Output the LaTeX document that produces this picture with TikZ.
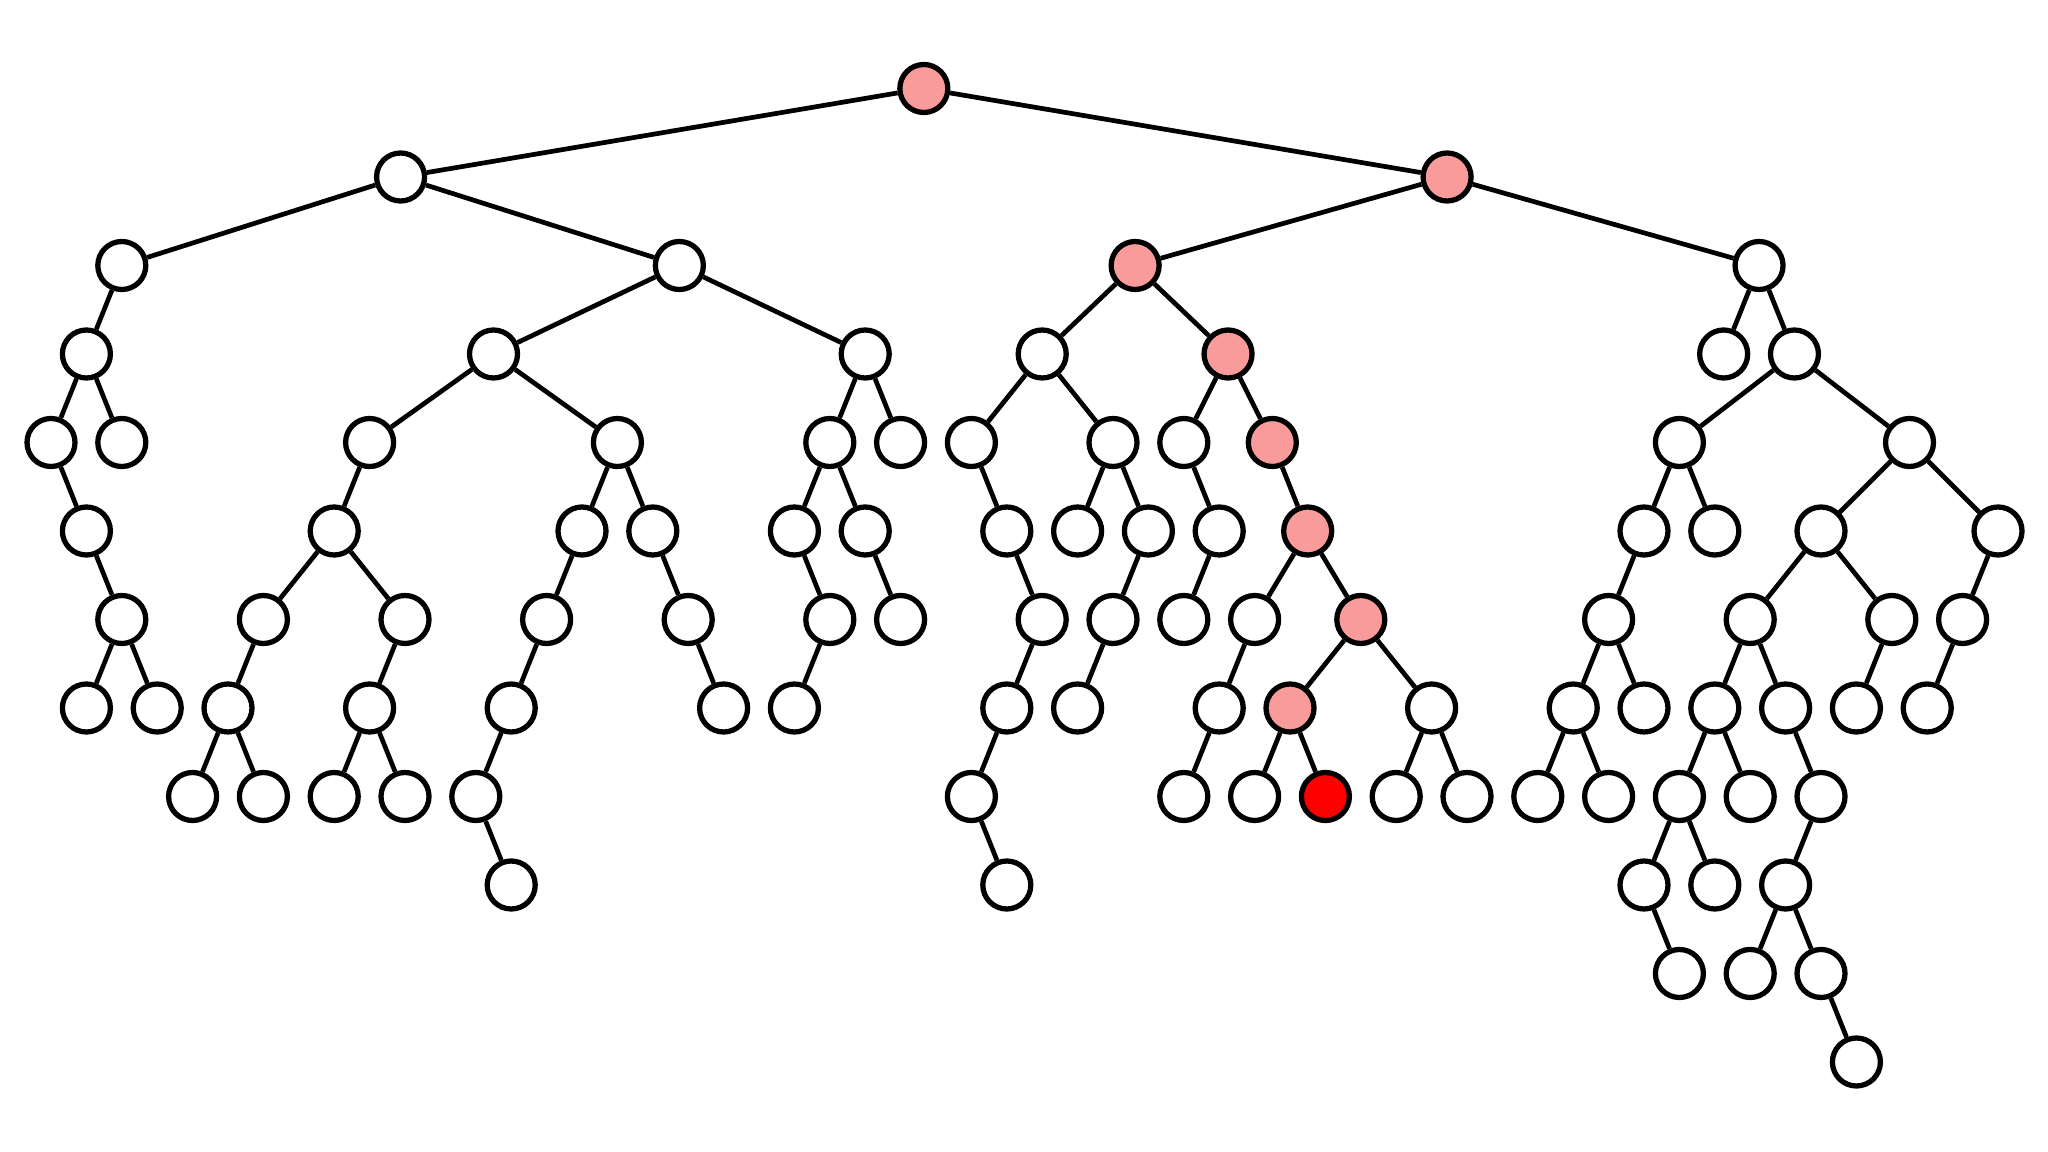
\documentclass[tikz,border=0pt]{standalone}
\definecolor{pathpink}{RGB}{250,155,155}
\definecolor{hitred}{RGB}{255,0,0}
\tikzset{
  vtx/.style={circle, draw=black, line width=1.5pt, minimum size=0.48cm, inner sep=0pt, fill=white},
  onpath/.style={fill=pathpink},
  target/.style={fill=hitred},
  link/.style={draw=black, line width=1.34pt}
}
\begin{document}
\begin{tikzpicture}[x=0.354cm, y=-0.885cm]
\useasboundingbox[fill=white] (-1.4407,-1) rectangle (56.412,12.017);
% level 0
\node[vtx,onpath] (r) at (24.656,0) {};
% level 1
\node[vtx] (a) at (9.875,1) {};
\node[vtx,onpath] (b) at (39.4375,1) {};
% level 2
\node[vtx] (c) at (2,2) {};
\node[vtx] (d) at (17.75,2) {};
\node[vtx,onpath] (e) at (30.625,2) {};
\node[vtx] (f) at (48.25,2) {};
% level 3
\node[vtx] (g) at (1,3) {};
\node[vtx] (h) at (12.5,3) {};
\node[vtx] (i) at (23,3) {};
\node[vtx] (j) at (28,3) {};
\node[vtx,onpath] (k) at (33.25,3) {};
\node[vtx] (l) at (47.25,3) {};
\node[vtx] (m) at (49.25,3) {};
% level 4
\node[vtx] (gA) at (0,4) {};
\node[vtx] (gB) at (2,4) {};
\node[vtx] (hA) at (9,4) {};
\node[vtx] (hB) at (16,4) {};
\node[vtx] (iA) at (22,4) {};
\node[vtx] (iB) at (24,4) {};
\node[vtx] (jA) at (26,4) {};
\node[vtx] (jB) at (30,4) {};
\node[vtx] (kA) at (32,4) {};
\node[vtx,onpath] (kB) at (34.5,4) {};
\node[vtx] (mA) at (46,4) {};
\node[vtx] (mB) at (52.5,4) {};
% level 5
\node[vtx] (u5x1) at (1,5) {};
\node[vtx] (u5x8) at (8,5) {};
\node[vtx] (u5x15) at (15,5) {};
\node[vtx] (u5x17) at (17,5) {};
\node[vtx] (u5x21) at (21,5) {};
\node[vtx] (u5x23) at (23,5) {};
\node[vtx] (u5x27) at (27,5) {};
\node[vtx] (u5x29) at (29,5) {};
\node[vtx] (u5x31) at (31,5) {};
\node[vtx] (u5x33) at (33,5) {};
\node[vtx,onpath] (u5x35) at (35.5,5) {};
\node[vtx] (u5x45) at (45,5) {};
\node[vtx] (u5x47) at (47,5) {};
\node[vtx] (u5x50) at (50,5) {};
\node[vtx] (u5x55) at (55,5) {};
% level 6
\node[vtx] (u6x2) at (2,6) {};
\node[vtx] (u6x6) at (6,6) {};
\node[vtx] (u6x10) at (10,6) {};
\node[vtx] (u6x14) at (14,6) {};
\node[vtx] (u6x18) at (18,6) {};
\node[vtx] (u6x22) at (22,6) {};
\node[vtx] (u6x24) at (24,6) {};
\node[vtx] (u6x28) at (28,6) {};
\node[vtx] (u6x30) at (30,6) {};
\node[vtx] (u6x32) at (32,6) {};
\node[vtx] (u6x34) at (34,6) {};
\node[vtx,onpath] (u6x37) at (37,6) {};
\node[vtx] (u6x44) at (44,6) {};
\node[vtx] (u6x48) at (48,6) {};
\node[vtx] (u6x52) at (52,6) {};
\node[vtx] (u6x54) at (54,6) {};
% level 7
\node[vtx] (u7x1) at (1,7) {};
\node[vtx] (u7x3) at (3,7) {};
\node[vtx] (u7x5) at (5,7) {};
\node[vtx] (u7x9) at (9,7) {};
\node[vtx] (u7x13) at (13,7) {};
\node[vtx] (u7x19) at (19,7) {};
\node[vtx] (u7x21) at (21,7) {};
\node[vtx] (u7x27) at (27,7) {};
\node[vtx] (u7x29) at (29,7) {};
\node[vtx] (u7x33) at (33,7) {};
\node[vtx,onpath] (u7x35) at (35,7) {};
\node[vtx] (u7x39) at (39,7) {};
\node[vtx] (u7x43) at (43,7) {};
\node[vtx] (u7x45) at (45,7) {};
\node[vtx] (u7x47) at (47,7) {};
\node[vtx] (u7x49) at (49,7) {};
\node[vtx] (u7x51) at (51,7) {};
\node[vtx] (u7x53) at (53,7) {};
% level 8
\node[vtx] (u8x4) at (4,8) {};
\node[vtx] (u8x6) at (6,8) {};
\node[vtx] (u8x8) at (8,8) {};
\node[vtx] (u8x10) at (10,8) {};
\node[vtx] (u8x12) at (12,8) {};
\node[vtx] (u8x26) at (26,8) {};
\node[vtx] (u8x32) at (32,8) {};
\node[vtx] (u8x34) at (34,8) {};
\node[vtx,target] (u8x36) at (36,8) {};
\node[vtx] (u8x38) at (38,8) {};
\node[vtx] (u8x40) at (40,8) {};
\node[vtx] (u8x42) at (42,8) {};
\node[vtx] (u8x44) at (44,8) {};
\node[vtx] (u8x46) at (46,8) {};
\node[vtx] (u8x48) at (48,8) {};
\node[vtx] (u8x50) at (50,8) {};
% level 9
\node[vtx] (u9x13) at (13,9) {};
\node[vtx] (u9x27) at (27,9) {};
\node[vtx] (u9x45) at (45,9) {};
\node[vtx] (u9x47) at (47,9) {};
\node[vtx] (u9x49) at (49,9) {};
% level 10
\node[vtx] (u10x46) at (46,10) {};
\node[vtx] (u10x48) at (48,10) {};
\node[vtx] (u10x50) at (50,10) {};
% level 11
\node[vtx] (u11x51) at (51,11) {};
% edges
\path[link]
  (r) -- (a) (r) -- (b)
  (a) -- (c) (a) -- (d)
  (b) -- (e) (b) -- (f)
  (c) -- (g)
  (d) -- (h) (d) -- (i)
  (e) -- (j) (e) -- (k)
  (f) -- (l) (f) -- (m)
  (g) -- (gA) (g) -- (gB)
  (h) -- (hA) (h) -- (hB)
  (i) -- (iA) (i) -- (iB)
  (j) -- (jA) (j) -- (jB)
  (k) -- (kA) (k) -- (kB)
  (m) -- (mA) (m) -- (mB)
  (gA) -- (u5x1)
  (hA) -- (u5x8)
  (hB) -- (u5x15) (hB) -- (u5x17)
  (iA) -- (u5x21) (iA) -- (u5x23)
  (jA) -- (u5x27)
  (jB) -- (u5x29) (jB) -- (u5x31)
  (kA) -- (u5x33)
  (kB) -- (u5x35)
  (mA) -- (u5x45) (mA) -- (u5x47)
  (mB) -- (u5x50) (mB) -- (u5x55)
  (u5x1) -- (u6x2)
  (u5x8) -- (u6x6) (u5x8) -- (u6x10)
  (u5x15) -- (u6x14)
  (u5x17) -- (u6x18)
  (u5x21) -- (u6x22)
  (u5x23) -- (u6x24)
  (u5x27) -- (u6x28)
  (u5x31) -- (u6x30)
  (u5x33) -- (u6x32)
  (u5x35) -- (u6x34) (u5x35) -- (u6x37)
  (u5x45) -- (u6x44)
  (u5x50) -- (u6x48) (u5x50) -- (u6x52)
  (u5x55) -- (u6x54)
  (u6x2) -- (u7x1) (u6x2) -- (u7x3)
  (u6x6) -- (u7x5)
  (u6x10) -- (u7x9)
  (u6x14) -- (u7x13)
  (u6x18) -- (u7x19)
  (u6x22) -- (u7x21)
  (u6x28) -- (u7x27)
  (u6x30) -- (u7x29)
  (u6x34) -- (u7x33)
  (u6x37) -- (u7x35) (u6x37) -- (u7x39)
  (u6x44) -- (u7x43) (u6x44) -- (u7x45)
  (u6x48) -- (u7x47) (u6x48) -- (u7x49)
  (u6x52) -- (u7x51)
  (u6x54) -- (u7x53)
  (u7x5) -- (u8x4) (u7x5) -- (u8x6)
  (u7x9) -- (u8x8) (u7x9) -- (u8x10)
  (u7x13) -- (u8x12)
  (u7x27) -- (u8x26)
  (u7x33) -- (u8x32)
  (u7x35) -- (u8x34) (u7x35) -- (u8x36)
  (u7x39) -- (u8x38) (u7x39) -- (u8x40)
  (u7x43) -- (u8x42) (u7x43) -- (u8x44)
  (u7x47) -- (u8x46) (u7x47) -- (u8x48)
  (u7x49) -- (u8x50)
  (u8x12) -- (u9x13)
  (u8x26) -- (u9x27)
  (u8x46) -- (u9x45) (u8x46) -- (u9x47)
  (u8x50) -- (u9x49)
  (u9x45) -- (u10x46)
  (u9x49) -- (u10x48) (u9x49) -- (u10x50)
  (u10x50) -- (u11x51);
\end{tikzpicture}
\end{document}
